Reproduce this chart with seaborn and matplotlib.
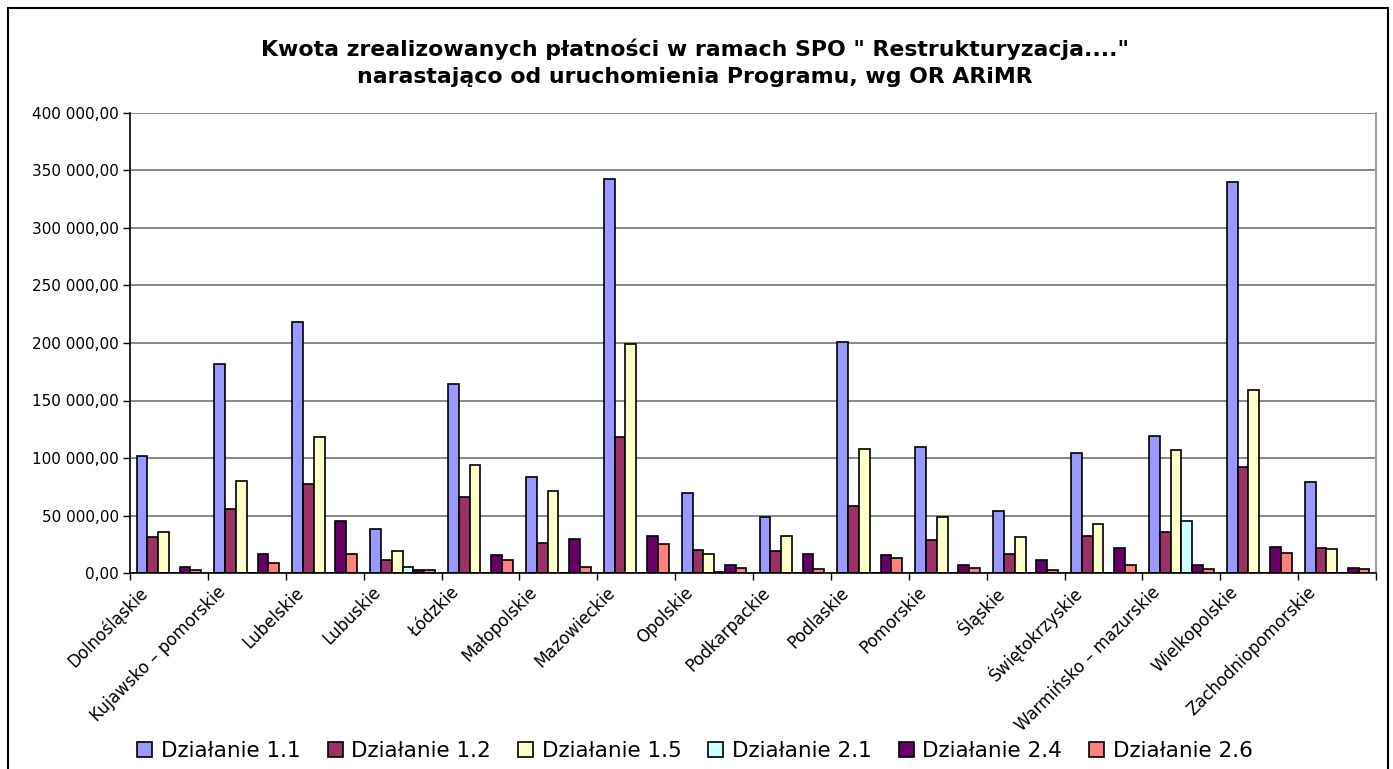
import matplotlib
matplotlib.use("Agg")
import matplotlib.pyplot as plt
import matplotlib.transforms as mtransforms
from matplotlib.patches import Rectangle
from matplotlib.ticker import FuncFormatter, MultipleLocator, FixedLocator
import seaborn as sns
import pandas as pd

categories = ["Dolnośląskie", "Kujawsko – pomorskie", "Lubelskie", "Lubuskie", "Łódzkie",
              "Małopolskie", "Mazowieckie", "Opolskie", "Podkarpackie", "Podlaskie",
              "Pomorskie", "Śląskie", "Świętokrzyskie", "Warmińsko – mazurskie",
              "Wielkopolskie", "Zachodniopomorskie"]
series_names = ["Działanie 1.1", "Działanie 1.2", "Działanie 1.5",
                "Działanie 2.1", "Działanie 2.4", "Działanie 2.6"]
d11 = [101500, 181500, 218000, 38000, 164000, 83500, 343000, 69500, 48700, 201000,
       110000, 54000, 104000, 119000, 340000, 79000]
d12 = [31000, 56000, 77000, 11000, 66000, 26400, 118000, 20000, 18800, 58600,
       28700, 16500, 32000, 35400, 92500, 22000]
d15 = [35400, 80000, 118000, 18800, 93600, 71600, 199000, 16500, 32000, 108000,
       48400, 31000, 43000, 106700, 159000, 20900]
d21 = [0, 0, 0, 5500, 0, 0, 0, 1000, 0, 0, 0, 0, 0, 45000, 0, 0]
d24 = [5500, 16500, 45000, 2300, 15400, 29600, 32000, 6700, 16500, 15400,
       6700, 11000, 22000, 6700, 23000, 4600]
d26 = [2300, 8700, 16500, 2300, 11000, 5500, 25500, 4300, 3500, 13300,
       4600, 2300, 6700, 3500, 17700, 3500]
colors = ["#9999FF", "#993366", "#FFFFCC", "#CCFFFF", "#660066", "#FF8080"]

title_text = 'Kwota zrealizowanych płatności w ramach SPO " Restrukturyzacja...."\nnarastająco od uruchomienia Programu, wg OR ARiMR'

rows = []
for name, vals in zip(series_names, [d11, d12, d15, d21, d24, d26]):
    for c, v in zip(categories, vals):
        rows.append({"Region": c, "Działanie": name, "Kwota": v})
df = pd.DataFrame(rows)

sns.set_style("white")
plt.rcParams["font.family"] = ["DejaVu Sans"]
plt.rcParams["text.color"] = "black"
plt.rcParams["xtick.color"] = "black"
plt.rcParams["ytick.color"] = "black"
plt.rcParams["axes.labelcolor"] = "black"

W, H = 1393, 769
fig = plt.figure(figsize=(W / 100, H / 100), dpi=100)
ax = fig.add_axes([130 / W, 1 - 573 / H, (1376 - 130) / W, (573 - 113) / H])

sns.barplot(data=df, x="Region", y="Kwota", hue="Działanie", order=categories,
            hue_order=series_names, palette=colors, width=0.83, edgecolor="black",
            linewidth=1.2, ax=ax, saturation=1, legend=True)

handles, labels = ax.get_legend_handles_labels()
if ax.legend_ is not None:
    ax.legend_.remove()

ax.set_ylim(0, 400000)
ax.set_xlim(-0.5, len(categories) - 0.5)
ax.yaxis.set_major_locator(MultipleLocator(50000))
ax.yaxis.set_major_formatter(FuncFormatter(
    lambda v, p: f"{v:,.2f}".replace(",", " ").replace(".", ",")))
ax.grid(axis="y", color="#6a6a6a", linewidth=1.1)
ax.set_axisbelow(True)
ax.set_xlabel("")
ax.set_ylabel("")

ax.spines["top"].set_visible(False)
ax.spines["left"].set_color("black")
ax.spines["bottom"].set_color("black")
ax.spines["right"].set_color("#A0A0A0")
ax.spines["right"].set_linewidth(1.5)
ax.spines["left"].set_linewidth(1.2)
ax.spines["bottom"].set_linewidth(1.2)

ax.tick_params(axis="y", which="major", left=True, direction="out", length=5,
               width=1, color="black", labelsize=11, pad=3, labelcolor="black")
ax.xaxis.set_minor_locator(FixedLocator([i - 0.5 for i in range(len(categories) + 1)]))
ax.tick_params(axis="x", which="minor", bottom=True, direction="out", length=5,
               width=1, color="black")
ax.tick_params(axis="x", which="major", bottom=False, length=0, pad=12,
               labelsize=12, labelcolor="black")
offset = mtransforms.ScaledTranslation(-24 / 100, 0, fig.dpi_scale_trans)
for lab in ax.get_xticklabels():
    lab.set_rotation(45)
    lab.set_ha("right")
    lab.set_va("center")
    lab.set_rotation_mode("anchor")
    lab.set_transform(lab.get_transform() + offset)

fig.text(695 / W, 1 - 63 / H, title_text, ha="center", va="center",
         fontsize=15.8, fontweight="bold", linespacing=1.45, color="black")

fig.legend(handles, labels, loc="center", bbox_to_anchor=(695 / W, 1 - 751 / H),
           ncol=6, frameon=False, fontsize=15.5, handlelength=0.7, handleheight=0.7,
           handletextpad=0.4, columnspacing=1.25, borderaxespad=0)

fig.patches.append(Rectangle((8 / W, -0.02), (1388 - 8) / W, 1.02 - 8 / H,
                             transform=fig.transFigure, fill=False,
                             edgecolor="black", linewidth=1.5))

fig.savefig("out.png", dpi=100, facecolor="white")
